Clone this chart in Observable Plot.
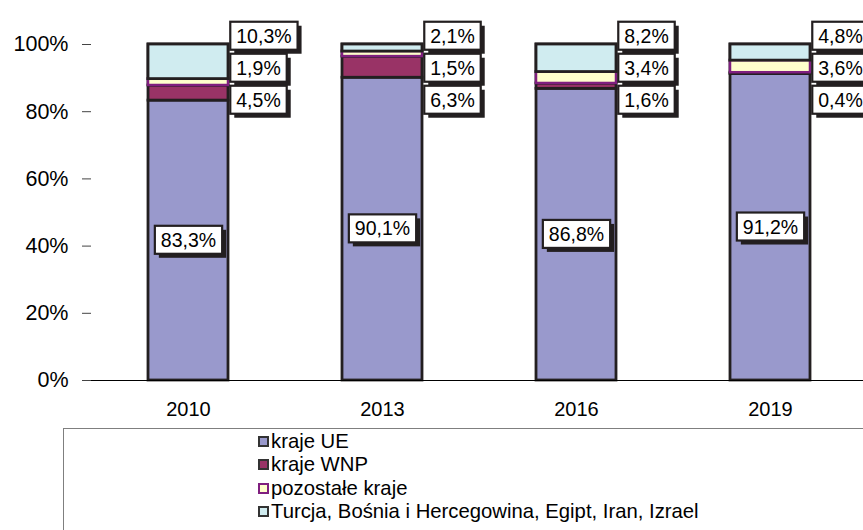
<!DOCTYPE html>
<html>
<head>
<meta charset="utf-8">
<script src="https://cdn.jsdelivr.net/npm/d3@7"></script>
<script src="https://cdn.jsdelivr.net/npm/@observablehq/plot@0.6"></script>
<style>
  html, body { margin: 0; padding: 0; background: #fff; width: 863px; height: 530px; overflow: hidden; }
  #chart { position: absolute; left: 0; top: 0; }
  #legend { position: absolute; left: 63px; top: 428px; width: 840px; height: 130px; border: 1px solid #7f7f7f; box-sizing: border-box;
            font-family: "Liberation Sans", Arial, sans-serif; font-size: 20.3px; color: #000; padding-top: 1px; }
  .item { position: relative; left: 194px; height: 23.3px; line-height: 23.3px; display: flex; align-items: center; }
  .sw { width: 11px; height: 11px; box-sizing: border-box; border: 2px solid #333; margin-right: 2px; }
</style>
</head>
<body>
<div id="chart"></div>
<div id="legend"></div>
<script>
// ---- data ----
const years = ["2010", "2013", "2016", "2019"];
const seriesNames = ["kraje UE", "kraje WNP", "pozostałe kraje", "Turcja, Bośnia i Hercegowina, Egipt, Iran, Izrael"];
const krajeUE = [83.3, 90.1, 86.8, 91.2];
const krajeWNP = [4.5, 6.3, 1.6, 0.4];
const pozostale = [1.9, 1.5, 3.4, 3.6];
const turcjaItd = [10.3, 2.1, 8.2, 4.8];
const yTicks = [0, 20, 40, 60, 80, 100];

// ---- styles ----
const fills = ["#9999CC", "#993366", "#FFFFCC", "#D0ECF0"];
const strokes = ["#231F20", "#231F20", "#7F1F7F", "#231F20"];
const FONT = "'Liberation Sans', Arial, sans-serif";

const values = [krajeUE, krajeWNP, pozostale, turcjaItd];
const rows = [];
years.forEach((year, i) => {
  let acc = 0;
  values.forEach((arr, s) => {
    const v = arr[i];
    rows.push({year, series: seriesNames[s], rank: s, value: v, y1: acc, y2: acc + v});
    acc += v;
  });
});
const fmt = v => v.toFixed(1).replace(".", ",") + "%";

const bandInner = 0.59, bandOuter = 0.295;
const step = (863 + 4 - 91) / years.length;
const halfBar = step * (1 - bandInner) / 2;

// small series labels: stacked to the right of each bar, top to bottom
const sideOrder = [3, 2, 1];
const sideMarks = sideOrder.map((s, k) =>
  Plot.text(rows.filter(d => d.rank === s), {
    x: "year", y: () => 100, text: d => fmt(d.value),
    textAnchor: "start", dx: halfBar + 8, dy: -8 + 32 * k,
    fontSize: 19.5, fill: "#000"
  })
);

const chart = Plot.plot({
  width: 863,
  height: 428,
  marginLeft: 91,
  marginRight: -4,
  marginTop: 44,
  marginBottom: 48,
  style: {fontFamily: FONT, background: "transparent", overflow: "visible"},
  x: {type: "band", domain: years, paddingInner: bandInner, paddingOuter: bandOuter, label: null},
  y: {domain: [0, 100], label: null},
  color: {domain: seriesNames, range: fills},
  marks: [
    Plot.barY(rows, {x: "year", y1: "y1", y2: "y2", fill: "series", stroke: "#231F20", strokeWidth: 2.8}),
    Plot.barY(rows.filter(d => d.rank === 2), {x: "year", y1: "y1", y2: "y2", fill: "series", stroke: strokes[2], strokeWidth: 2.5}),
    Plot.barY(rows.filter(d => d.rank === 3), {x: "year", y1: "y1", y2: "y2", fill: "series", stroke: "#231F20", strokeWidth: 2.8}),
    Plot.axisY({ticks: yTicks, tickFormat: d => d + "%", tickSize: 9, tickPadding: 14, fontSize: 21.5, stroke: "#444", fill: "#000", label: null}),
    Plot.axisY({ticks: [], line: true, stroke: "#000", tickSize: 0, label: null}),
    Plot.ruleY([0], {stroke: "#000", strokeWidth: 1}),
    Plot.axisX({tickSize: 0, tickPadding: 21, fontSize: 20, fill: "#000", label: null}),
    Plot.text(rows.filter(d => d.rank === 0), {
      x: "year", y: d => (d.y1 + d.y2) / 2, text: d => fmt(d.value),
      textAnchor: "middle", fontSize: 19.5, fill: "#000"
    }),
    ...sideMarks
  ]
});
document.getElementById("chart").appendChild(chart);

// boxed labels with drop shadow
const NS = "http://www.w3.org/2000/svg";
chart.querySelectorAll('g[aria-label="text"] text').forEach(t => {
  const b = t.getBBox();
  const padX = 6, padY = 3;
  const tr = t.getAttribute("transform");
  const mk = (dx, dy, fill, stroke) => {
    const r = document.createElementNS(NS, "rect");
    r.setAttribute("x", b.x - padX + dx);
    r.setAttribute("y", b.y - padY + dy);
    r.setAttribute("width", b.width + 2 * padX);
    r.setAttribute("height", b.height + 2 * padY);
    r.setAttribute("fill", fill);
    if (stroke) { r.setAttribute("stroke", stroke); r.setAttribute("stroke-width", 2.2); }
    if (tr) r.setAttribute("transform", tr);
    t.parentNode.insertBefore(r, t);
  };
  mk(4, 4, "#231F20", null);
  mk(0, 0, "#fff", "#231F20");
});

// legend
const legend = document.getElementById("legend");
seriesNames.forEach((name, i) => {
  const it = document.createElement("div");
  it.className = "item";
  const sw = document.createElement("span");
  sw.className = "sw";
  sw.style.background = fills[i];
  sw.style.borderColor = i === 2 ? strokes[2] : "#333";
  it.appendChild(sw);
  const tx = document.createElement("span");
  tx.textContent = name;
  it.appendChild(tx);
  legend.appendChild(it);
});
</script>
</body>
</html>
